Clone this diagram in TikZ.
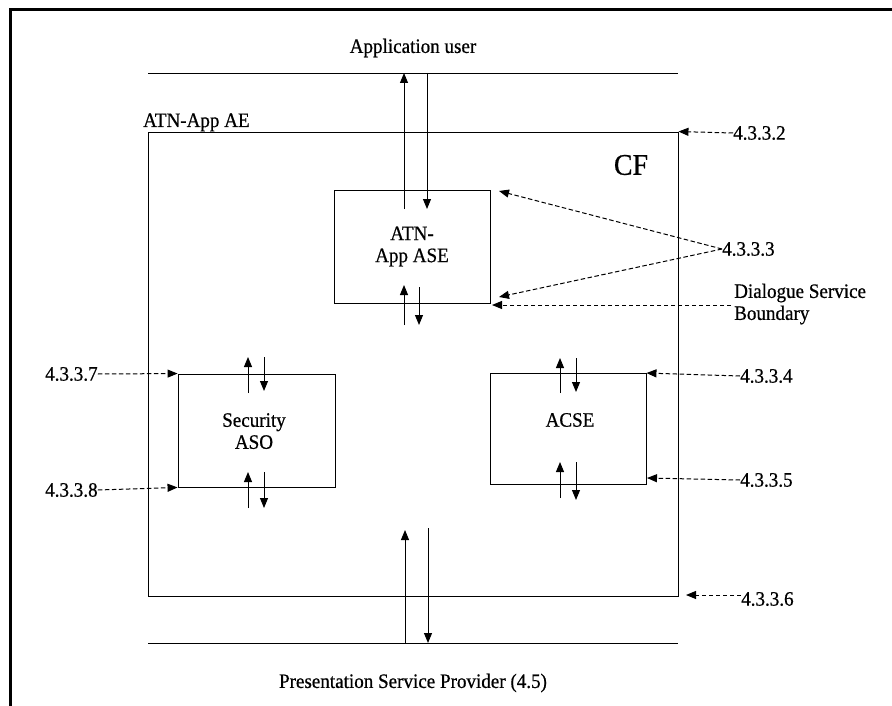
\documentclass[tikz,border=0pt]{standalone}
\usepackage{fontspec}
\setmainfont{Liberation Serif}[FakeBold=0.6,FakeStretch=0.93]
\usetikzlibrary{arrows.meta}
\begin{document}
\begin{tikzpicture}[x=1pt,y=-1pt,
  font=\fontsize{20.5}{22}\selectfont,
  thinln/.style={line width=0.9pt},
  box/.style={draw, line width=0.9pt, minimum width=157pt, minimum height=113pt, inner sep=0pt, align=center},
  sarrow/.style={line width=1pt, -{Triangle[length=10pt,width=8pt]}},
  darrow/.style={line width=1pt, dash pattern=on 4.5pt off 2.5pt, -{Triangle[length=10pt,width=8pt]}},
  lbl/.style={inner sep=0pt, align=left},
]
\useasboundingbox (0,0) rectangle (892,706);
% frame
\draw[line width=3pt] (10.5,706) -- (10.5,9.5) -- (892,9.5);

% service lines
\coordinate (tl1) at (148,73); \coordinate (tl2) at (678,73);
\coordinate (bl1) at (148,643); \coordinate (bl2) at (678,643);
\draw[thinln] (tl1) -- (tl2);
\draw[thinln] (bl1) -- (bl2);
\node (appuser) at (413,48) {Application user};
\node (psp) at (413,683) {Presentation Service Provider (4.5)};

% CF box
\node[draw, thinln, minimum width=530pt, minimum height=464pt, inner sep=0pt] (cf) at (413,364) {};
\node[anchor=base west, inner sep=0pt] (ae) at (143,127) {ATN-App AE};
\node[font=\fontsize{30}{32}\selectfont] (cft) at (631,165) {CF};

% inner boxes
\node[box, minimum width=156pt] (ase) at (412,246.5) {ATN-\\App ASE};
\node[box, align=center, text height=0pt] (sec) at (256.5,430.5) {};
\node[lbl, align=center, text depth=0pt] (sect) at (254,431) {Security\\ASO};
\node[box, minimum width=156pt, minimum height=111pt] (acse) at (568,429) {};
\node[inner sep=0pt] (acset) at (570,420) {ACSE};

% ASE arrows
\coordinate (u1a) at (404,209); \coordinate (u1b) at (404,73);
\coordinate (d1a) at (427,73); \coordinate (d1b) at (427,209);
\draw[sarrow] (u1a) -- (u1b);
\draw[sarrow] (d1a) -- (d1b);
\coordinate (u2a) at (404,325); \coordinate (u2b) at (404,285);
\coordinate (d2a) at (419,287); \coordinate (d2b) at (419,325);
\draw[sarrow] (u2a) -- (u2b);
\draw[sarrow] (d2a) -- (d2b);

% Security arrows
\coordinate (u3a) at (248,393); \coordinate (u3b) at (248,357);
\coordinate (d3a) at (264,357); \coordinate (d3b) at (264,391);
\draw[sarrow] (u3a) -- (u3b);
\draw[sarrow] (d3a) -- (d3b);
\coordinate (u4a) at (248,508); \coordinate (u4b) at (248,472);
\coordinate (d4a) at (264,472); \coordinate (d4b) at (264,508);
\draw[sarrow] (u4a) -- (u4b);
\draw[sarrow] (d4a) -- (d4b);

% ACSE arrows
\coordinate (u5a) at (560,393); \coordinate (u5b) at (560,358);
\coordinate (d5a) at (576,358); \coordinate (d5b) at (576,392);
\draw[sarrow] (u5a) -- (u5b);
\draw[sarrow] (d5a) -- (d5b);
\coordinate (u6a) at (560,498); \coordinate (u6b) at (560,462);
\coordinate (d6a) at (576,462); \coordinate (d6b) at (576,500);
\draw[sarrow] (u6a) -- (u6b);
\draw[sarrow] (d6a) -- (d6b);

% bottom arrows
\coordinate (u7a) at (405,643); \coordinate (u7b) at (405,530);
\coordinate (d7a) at (428,528); \coordinate (d7b) at (428,643);
\draw[sarrow] (u7a) -- (u7b);
\draw[sarrow] (d7a) -- (d7b);

% reference labels
\node[lbl, anchor=west] (r2) at (733,133) {4.3.3.2};
\node[lbl, anchor=west] (r3) at (722,249) {4.3.3.3};
\node[lbl, anchor=west] (dsb) at (734,304) {Dialogue Service\\Boundary};
\node[lbl, anchor=west] (r4) at (740,376) {4.3.3.4};
\node[lbl, anchor=west] (r5) at (740,480) {4.3.3.5};
\node[lbl, anchor=west] (r6) at (741,599) {4.3.3.6};
\node[lbl, anchor=west] (r7) at (45,374) {4.3.3.7};
\node[lbl, anchor=west] (r8) at (45,490) {4.3.3.8};

\coordinate (ase1) at (499,191); \coordinate (ase2) at (499,297);
\coordinate (dsbs) at (731,305); \coordinate (dsbe) at (492,305);
\coordinate (r6e) at (686,595); \coordinate (r6s) at (741,595);
\coordinate (r5e) at (647,478);

\draw[darrow] (r2.west) -- (cf.north east);
\draw[darrow] (r3.west) -- (ase1);
\draw[darrow] (r3.west) -- (ase2);
\draw[darrow] (dsbs) -- (dsbe);
\draw[darrow] (r4.west) -- (acse.north east);
\draw[darrow] (r5.west) -- (r5e);
\draw[darrow] (r6s) -- (r6e);
\draw[darrow] (r7.east) -- (sec.north west);
\draw[darrow] (r8.east) -- (sec.south west);
\end{tikzpicture}
\end{document}
